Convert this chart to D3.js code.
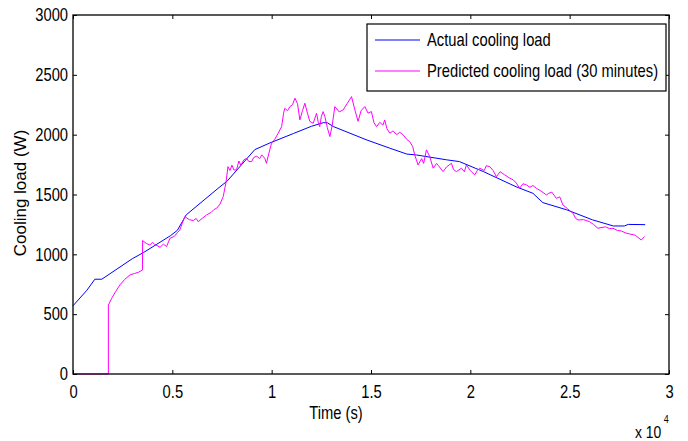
<!DOCTYPE html>
<html>
<head>
<meta charset="utf-8">
<script src="https://cdn.jsdelivr.net/npm/d3@7"></script>
<style>
  body { margin: 0; background: #fff; }
  svg { display: block; font-family: "Liberation Sans", Arial, sans-serif; }
</style>
</head>
<body>
<svg id="chart" width="688" height="441"></svg>
<script>
// actual cooling load (W) vs time (s)
const actualTime = [0, 700, 1100, 1450, 3000, 3550, 4900, 5250, 5700, 7400, 7750, 9150, 9900, 11100, 12000, 12600, 12800, 13100,
  14800, 15950, 16800, 17300, 18800, 19450, 20650, 22300, 23150, 23650, 24850, 26150, 27200, 27750, 27950, 28800]
const actualLoad = [570, 700, 792, 792, 965, 1015, 1155, 1200, 1330, 1565, 1610, 1875, 1930, 2010, 2070, 2100, 2100, 2068,
  1955, 1887, 1838, 1830, 1790, 1775, 1692, 1565, 1510, 1432, 1372, 1288, 1237, 1237, 1250, 1248]

// predicted cooling load, 30 minutes ahead
const predTime = [0, 1780, 1781, 1950, 2150, 2360, 2600, 2870, 3100, 3290, 3500, 3501, 3700, 3870, 4000, 4100, 4380, 4550, 4710,
  4880, 5100, 5250, 5380, 5500, 5630, 5850, 6050, 6200, 6300, 6500, 6720, 6950, 7100, 7230, 7400, 7560, 7700, 7800, 7900, 8000,
  8100, 8230, 8350, 8450, 8600, 8740, 8850, 8990, 9100, 9250, 9400, 9500, 9650, 9740, 9800, 9990, 10150, 10330, 10500, 10600,
  10660, 10800, 10920, 11050, 11170, 11300, 11420, 11550, 11670, 11800, 11920, 12090, 12260, 12350, 12420, 12500, 12590, 12680,
  12800, 12930, 13050, 13180, 13400, 13600, 13800, 14020, 14200, 14350, 14500, 14690, 14850, 15020, 15150, 15280, 15440, 15600,
  15690, 15800, 15950, 16100, 16300, 16450, 16620, 16800, 16950, 17100, 17200, 17370, 17550, 17650, 17790, 17950, 18130, 18300,
  18400, 18630, 18800, 19050, 19150, 19300, 19550, 19700, 19800, 20000, 20220, 20350, 20470, 20700, 20800, 20980, 21150, 21310,
  21500, 21730, 21950, 22150, 22300, 22480, 22650, 22820, 23000, 23150, 23320, 23550, 23830, 23950, 24100, 24330, 24500, 24660,
  24900, 25170, 25300, 25420, 25700, 26000, 26200, 26420, 26800, 27000, 27180, 27400, 27600, 27800, 28020, 28300, 28450, 28600,
  28770]
const predLoad = [0, 0, 577, 633, 690, 744, 790, 828, 840, 850, 869, 1115, 1090, 1078, 1100, 1085, 1059, 1085, 1065,
  1134, 1150, 1180, 1204, 1260, 1315, 1290, 1282, 1300, 1273, 1300, 1329, 1350, 1375, 1385, 1420, 1482, 1600, 1733, 1700, 1745,
  1705, 1705, 1780, 1745, 1790, 1803, 1775, 1775, 1810, 1820, 1800, 1831, 1803, 1760, 1805, 1928, 1960, 2012, 2067, 2180,
  2220, 2200, 2235, 2250, 2305, 2260, 2123, 2200, 2263, 2180, 2111, 2095, 2179, 2100, 2067, 2150, 2193, 2150,
  2060, 1984, 2080, 2235, 2190, 2207, 2260, 2318, 2200, 2111, 2200, 2235, 2180, 2193, 2100, 2067, 2103, 2080,
  2123, 2050, 2012, 2030, 2000, 2020, 1998, 1960, 1942, 1900, 1831, 1747, 1800, 1760, 1873, 1820, 1720, 1760,
  1740, 1691, 1730, 1761, 1710, 1691, 1720, 1690, 1747, 1700, 1664, 1700, 1720, 1700, 1740, 1733, 1700, 1649,
  1690, 1664, 1640, 1622, 1600, 1552, 1590, 1580, 1560, 1575, 1552, 1530, 1496, 1510, 1520, 1468, 1480, 1413,
  1380, 1343, 1300, 1287, 1290, 1273, 1250, 1218, 1230, 1215, 1218, 1200, 1195, 1180, 1170, 1160, 1140, 1120,
  1148]

const xTicks = [0, 5000, 10000, 15000, 20000, 25000, 30000]
const xTickLabels = ['0', '0.5', '1', '1.5', '2', '2.5', '3']
const yTicks = [0, 500, 1000, 1500, 2000, 2500, 3000]
const legendLabels = ['Actual cooling load', 'Predicted cooling load (30 minutes)']
const seriesColors = ['#0000ff', '#ff00ff']

const svg = d3.select('#chart')
const plotL = 73, plotR = 669, plotT = 15, plotB = 374
const squeeze = 0.82 // no narrow font installed, so squeeze the regular one

const x = d3.scaleLinear().domain([0, 30000]).range([plotL, plotR])
const y = d3.scaleLinear().domain([0, 3000]).range([plotB, plotT])

const actual = actualTime.map((t, i) => [t, actualLoad[i]])
const pred = predTime.map((t, i) => [t, predLoad[i]])

const line = d3.line().x(d => x(d[0])).y(d => y(d[1]))

const gLines = svg.append('g')
gLines.append('path').datum(actual)
  .attr('d', line).attr('fill', 'none')
  .attr('stroke', seriesColors[0]).attr('stroke-width', 1)
gLines.append('path').datum(pred)
  .attr('d', line).attr('fill', 'none')
  .attr('stroke', seriesColors[1]).attr('stroke-width', 1)

// axes, MATLAB style: ticks inside on all four sides
const styleAxis = (g) => {
  g.select('.domain').remove()
  g.selectAll('.tick line').attr('stroke', '#000')
  g.selectAll('text').attr('fill', '#000')
    .attr('transform', `scale(${squeeze},1)`)
    .style('font-size', '18px')
}

svg.append('g').attr('transform', `translate(0,${plotB})`)
  .call(d3.axisBottom(x).tickValues(xTicks).tickFormat((d, i) => xTickLabels[i]).tickSizeInner(-4).tickPadding(11))
  .call(styleAxis)
svg.append('g').attr('transform', `translate(0,${plotT})`)
  .call(d3.axisTop(x).tickValues(xTicks).tickFormat('').tickSizeInner(-4))
  .call(styleAxis)
svg.append('g').attr('transform', `translate(${plotL},0)`)
  .call(d3.axisLeft(y).tickValues(yTicks).tickFormat(d3.format('d')).tickSizeInner(-4).tickPadding(6))
  .call(styleAxis)
svg.append('g').attr('transform', `translate(${plotR},0)`)
  .call(d3.axisRight(y).tickValues(yTicks).tickFormat('').tickSizeInner(-4))
  .call(styleAxis)

svg.append('rect')
  .attr('x', plotL).attr('y', plotT)
  .attr('width', plotR - plotL).attr('height', plotB - plotT)
  .attr('fill', 'none').attr('stroke', '#000').attr('stroke-width', 1.3)

// labels
svg.append('text')
  .attr('transform', `translate(336,419) scale(${squeeze},1)`)
  .attr('text-anchor', 'middle')
  .style('font-size', '18px').text('Time (s)')

svg.append('text')
  .attr('transform', 'translate(26,193) rotate(-90)')
  .attr('text-anchor', 'middle')
  .style('font-size', '17px').text('Cooling load (W)')

const expo = svg.append('text')
  .attr('transform', `translate(635,438) scale(${squeeze},1)`)
  .style('font-size', '17px')
expo.append('tspan').text('x 10')
expo.append('tspan').attr('dy', -15).attr('dx', 3).style('font-size', '11px').text('4')

// legend
const legend = svg.append('g')
legend.append('rect')
  .attr('x', 367).attr('y', 24).attr('width', 299).attr('height', 67)
  .attr('fill', '#fff').attr('stroke', '#000').attr('stroke-width', 1.2)

const entry = legend.selectAll('g.entry').data(legendLabels).enter()
  .append('g').attr('class', 'entry')
  .attr('transform', (_, i) => `translate(0,${40 + i * 31})`)
entry.append('line')
  .attr('x1', 375).attr('x2', 420)
  .attr('stroke', (_, i) => seriesColors[i]).attr('stroke-width', 1)
entry.append('text')
  .attr('transform', `translate(427,0) scale(${squeeze},1)`)
  .attr('dy', '0.35em')
  .style('font-size', '18px').text(d => d)
</script>
</body>
</html>
